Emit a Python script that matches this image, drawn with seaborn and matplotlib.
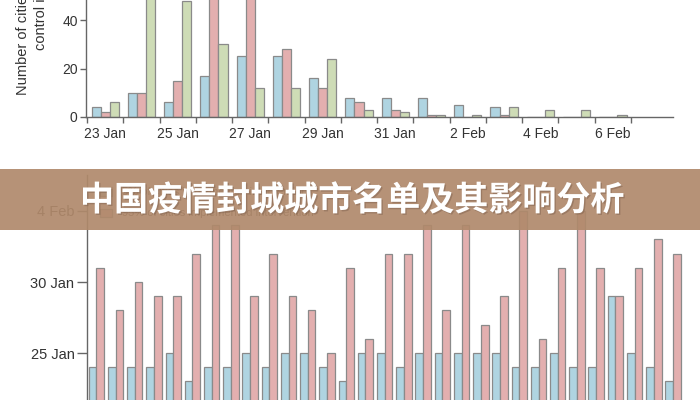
import numpy as np
import pandas as pd
import matplotlib
matplotlib.use("Agg")
import matplotlib.pyplot as plt
import matplotlib.dates as mdates
import matplotlib.patheffects as pe
from matplotlib.patches import Rectangle
import seaborn as sns

# ---------------- data: top chart (number of cities per day) ----------------
days = ["23 Jan", "24 Jan", "25 Jan", "26 Jan", "27 Jan", "28 Jan", "29 Jan",
        "30 Jan", "31 Jan", "1 Feb", "2 Feb", "3 Feb", "4 Feb", "5 Feb", "6 Feb"]
day_labels = ["23 Jan", "", "25 Jan", "", "27 Jan", "", "29 Jan", "",
              "31 Jan", "", "2 Feb", "", "4 Feb", "", "6 Feb"]
measures = ["Suspended intra-city public transport",
            "Closed entertainment venues",
            "Banned public gatherings"]
transport = [4, 10, 6, 17, 25, 25, 16, 8, 8, 8, 5, 4, 0, 0, 0]
venues = [2, 10, 15, 60, 62, 28, 12, 6, 3, 1, 0, 1, 0, 0, 0]
gatherings = [6, 55, 48, 30, 12, 12, 24, 3, 2, 1, 1, 4, 3, 3, 1]
yticks1 = [0, 20, 40]

# ---------------- data: bottom chart (dates per province) ----------------
provinces = ["Anhui", "Beijing", "Chongqing", "Fujian", "Gansu", "Guangdong",
             "Guangxi", "Guizhou", "Hainan", "Hebei", "Heilongjiang", "Henan",
             "Hubei", "Hunan", "Inner Mongolia", "Jiangsu", "Jiangxi", "Jilin",
             "Liaoning", "Ningxia", "Qinghai", "Shaanxi", "Shandong", "Shanghai",
             "Shanxi", "Sichuan", "Tianjin", "Tibet", "Xinjiang", "Yunnan",
             "Zhejiang"]
series2 = ["5% of cities implemented intervention",
           "95% of cities implemented intervention"]
date_5pct = ["24 Jan", "24 Jan", "24 Jan", "24 Jan", "25 Jan", "23 Jan", "24 Jan",
             "24 Jan", "25 Jan", "24 Jan", "25 Jan", "25 Jan", "24 Jan", "23 Jan",
             "25 Jan", "25 Jan", "24 Jan", "25 Jan", "25 Jan", "25 Jan", "25 Jan",
             "25 Jan", "24 Jan", "24 Jan", "25 Jan", "24 Jan", "24 Jan", "29 Jan",
             "25 Jan", "24 Jan", "23 Jan"]
date_95pct = ["31 Jan", "28 Jan", "30 Jan", "29 Jan", "29 Jan", "1 Feb", "3 Feb",
              "3 Feb", "29 Jan", "1 Feb", "29 Jan", "28 Jan", "25 Jan", "31 Jan",
              "26 Jan", "1 Feb", "1 Feb", "3 Feb", "28 Jan", "3 Feb", "27 Jan",
              "29 Jan", "4 Feb", "26 Jan", "31 Jan", "4 Feb", "31 Jan", "29 Jan",
              "31 Jan", "2 Feb", "1 Feb"]

title = "中国疫情封城城市名单及其影响分析"

# ---------------- style ----------------
sns.set_style("ticks")
plt.rcParams["font.family"] = ["Liberation Sans", "DejaVu Sans"]
BLUE, RED, GREEN = "#a6d8ea", "#eca6a6", "#cfe2b0"
EDGE = "#8a8a8a"
AXC = "#666666"
TXT = "#333333"

W, H = 700, 400
fig = plt.figure(figsize=(7, 4), dpi=100)

def fx(px):
    return px / W

def fy(py):
    return 1 - py / H

# ---------------- top chart ----------------
df1 = pd.DataFrame({
    "day": np.tile(days, 3),
    "cities": transport + venues + gatherings,
    "measure": np.repeat(measures, len(days)),
})
ppu = 2.425  # pixels per unit
ymax1 = 90
ax1 = fig.add_axes([fx(86), fy(117), fx(673) - fx(86), ymax1 * ppu / H])
sns.barplot(data=df1, x="day", y="cities", hue="measure",
            palette=[BLUE, RED, GREEN], width=0.75, edgecolor=EDGE,
            linewidth=0.9, legend=False, ax=ax1)
ax1.set_ylim(0, ymax1)
ax1.set_xlim(-0.5276, 15.657)
ax1.set_yticks(yticks1)
ax1.set_xticks(np.arange(-0.5, len(days), 1.0))
ax1.set_xticklabels([])
ax1.set_xticks(np.arange(len(days)), minor=True)
ax1.set_xticklabels(day_labels, minor=True)
ax1.tick_params(axis="x", which="major", length=4, width=1, color=AXC)
ax1.tick_params(axis="x", which="minor", length=0, pad=7, labelsize=10,
                labelcolor=TXT)
ax1.tick_params(axis="y", length=4, width=1, color=AXC, labelsize=10,
                labelcolor=TXT, pad=2)
ax1.set_xlabel("")
ax1.set_ylabel("")
for s in ["top", "right"]:
    ax1.spines[s].set_visible(False)
for s in ["left", "bottom"]:
    ax1.spines[s].set_color(AXC)
    ax1.spines[s].set_linewidth(1)
fig.text(fx(23), fy(95), "Number of cities implementing", rotation=90,
         ha="center", va="bottom", fontsize=10.5, color=TXT)
fig.text(fx(41), fy(50), "control interventions", rotation=90,
         ha="center", va="bottom", fontsize=10.5, color=TXT)

# ---------------- bottom chart ----------------
to_num = lambda lst: mdates.date2num(pd.to_datetime([d + " 2020" for d in lst],
                                                    format="%d %b %Y"))
df2 = pd.DataFrame({
    "province": np.tile(provinces, 2),
    "date": np.concatenate([to_num(date_5pct), to_num(date_95pct)]),
    "series": np.repeat(series2, len(provinces)),
})
ax2_top = 175
ax2 = fig.add_axes([fx(87), 0, 1 - fx(87), (H - ax2_top) / H])
sns.barplot(data=df2, x="province", y="date", hue="series",
            palette=[BLUE, RED], width=0.8, edgecolor=EDGE, linewidth=0.9,
            ax=ax2)
d25 = mdates.date2num(pd.Timestamp("2020-01-25"))
ppd = 14.2
ax2.set_ylim(d25 - (400 - 353) / ppd, d25 + (353 - ax2_top) / ppd)
ax2.set_xlim(-0.484, 31.4)
ticks2 = mdates.date2num(pd.date_range("2020-01-20", "2020-02-09", freq="5D"))
ax2.yaxis.set_major_locator(matplotlib.ticker.FixedLocator(ticks2))
ax2.yaxis.set_major_formatter(mdates.DateFormatter("%-d %b"))
ax2.tick_params(axis="y", length=7, width=1, color=AXC, labelsize=10.5,
                labelcolor=TXT, pad=2)
ax2.tick_params(axis="x", length=0, labelbottom=False)
ax2.set_xlabel("")
ax2.set_ylabel("")
for s in ["top", "right", "bottom"]:
    ax2.spines[s].set_visible(False)
ax2.spines["left"].set_color(AXC)
ax2.spines["left"].set_linewidth(1)
h, l = ax2.get_legend_handles_labels()
ax2.legend(h, l, loc="upper left", bbox_to_anchor=(0.021, 0.945),
           frameon=False, fontsize=8, borderaxespad=0, borderpad=0,
           handlelength=1.1, handleheight=0.75, handletextpad=0.9,
           labelspacing=1.0, labelcolor=TXT)

# ---------------- banner ----------------
fig.patches.append(Rectangle((0, fy(230)), 1, (230 - 169) / H,
                             transform=fig.transFigure, facecolor="#b0896b",
                             alpha=0.92, edgecolor="none", zorder=50))
fig.text(fx(352), fy(200), title, ha="center", va="center", fontsize=24.5,
         fontweight="heavy", color="white", family=["Noto Sans CJK SC"],
         zorder=60,
         path_effects=[pe.withSimplePatchShadow(offset=(1, -1),
                                                shadow_rgbFace="#6b5040",
                                                alpha=0.35)])

fig.savefig("out.png", dpi=100)
